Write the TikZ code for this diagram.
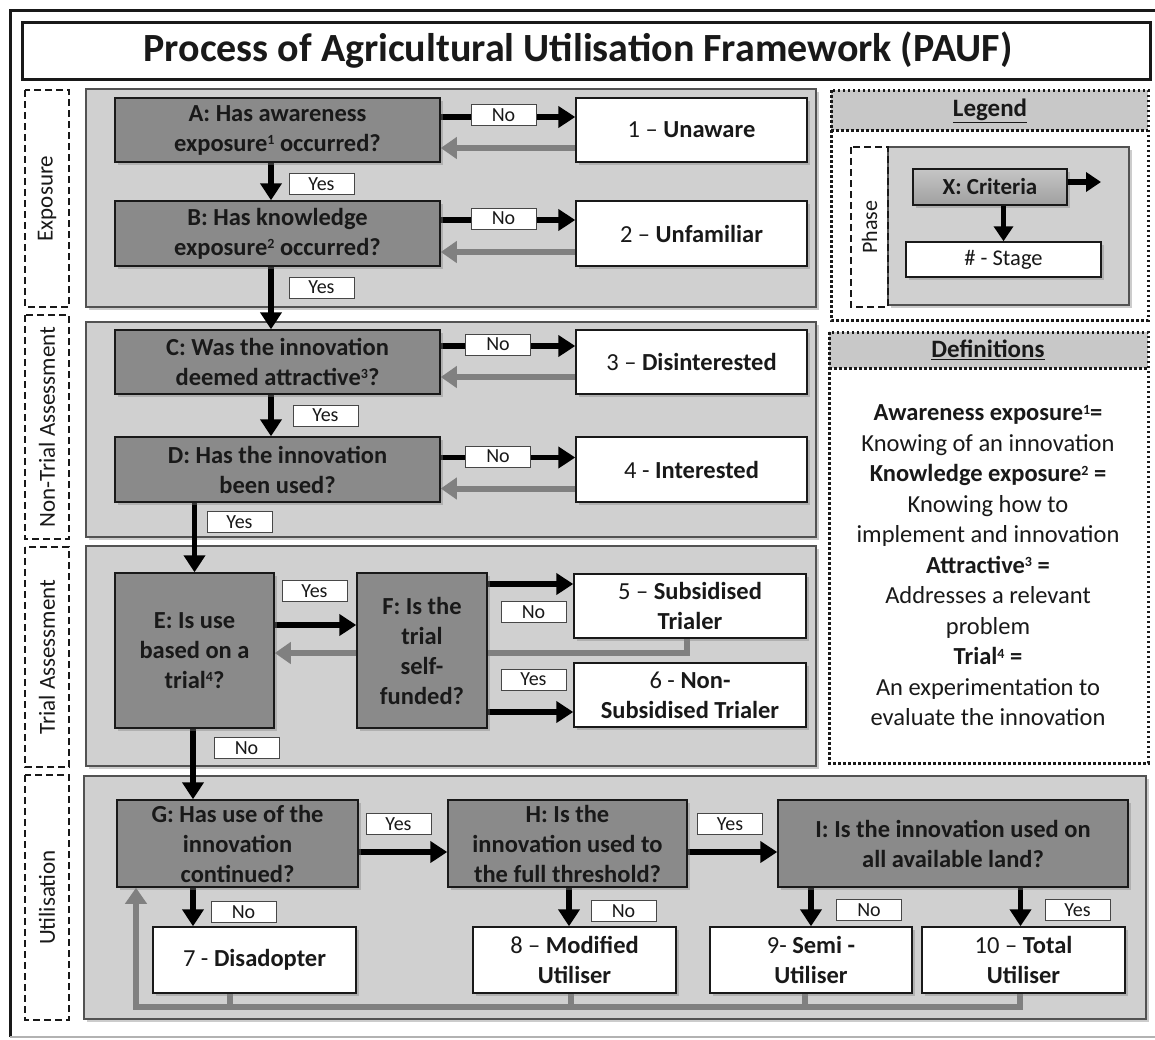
\documentclass[tikz,border=0pt]{standalone}
\usepackage{fontspec}
\setmainfont{Carlito}
\usetikzlibrary{arrows.meta,shadows,calc}
\definecolor{panelgray}{RGB}{208,208,208}
\definecolor{critgray}{RGB}{138,138,138}
\definecolor{arrgray}{RGB}{128,128,128}
\definecolor{hdrgray}{RGB}{200,200,200}
\definecolor{inkblack}{RGB}{25,25,25}
\newcommand\mysup[1]{\raisebox{0.55ex}{\fontsize{14}{14}\selectfont #1}}
\pgfdeclarelayer{bg}
\pgfdeclarelayer{panels}
\pgfdeclarelayer{conn}
\pgfsetlayers{bg,panels,conn,main}
\tikzset{
  shd/.style={drop shadow={shadow xshift=2.5pt,shadow yshift=-2.5pt,opacity=0.4}},
  crit/.style={draw=inkblack, line width=1.5pt, fill=critgray, align=center, inner sep=0pt, text=inkblack,
    font=\fontsize{24.5}{30}\selectfont\bfseries, shd},
  stage/.style={draw=inkblack, line width=1.5pt, fill=white, align=center, inner sep=0pt, text=inkblack,
    font=\fontsize{24.5}{30}\selectfont, shd},
  lab/.style={draw=inkblack!80, line width=0.8pt, fill=white, minimum width=65pt, minimum height=21pt,
    inner sep=0pt, text=inkblack, font=\fontsize{20}{22}\selectfont},
  phase/.style={draw=inkblack, line width=2.5pt, dash pattern=on 7pt off 4pt, rotate=90, minimum height=44pt,
    inner sep=0pt, text=inkblack, font=\fontsize{23}{26}\selectfont},
  arr/.style={line width=5.5pt, draw=black, -{Triangle[length=17pt,width=21pt]}},
  garr/.style={line width=6pt, draw=arrgray, -{Triangle[length=16pt,width=21pt]}},
  gline/.style={line width=6pt, draw=arrgray},
  panel/.style={draw=inkblack!75, line width=1.5pt, fill=panelgray, shd},
  dotbox/.style={draw=inkblack, line width=3pt, dash pattern=on 2.5pt off 2.5pt},
}
\begin{document}
\begin{tikzpicture}[x=1pt,y=-1pt]
\useasboundingbox (0,0) rectangle (1155,1039);
\begin{pgfonlayer}{bg}
\fill[white] (0,0) rectangle (1155,1039);
\end{pgfonlayer}
% outer frame
\draw[line width=3pt, inkblack] (10,1037) -- (10,10) -- (1155,10);
\draw[line width=1.5pt, gray!60] (10,1037) -- (1155,1037);
% title
\node[draw=inkblack, line width=3pt, minimum width=1128pt, minimum height=57pt, inner sep=0pt] (titlebox) at (586,50.5) {};
\node[font=\fontsize{40}{44}\selectfont\bfseries, text=inkblack, inner sep=0pt] (title) at (578,50.5)
  {Process of Agricultural Utilisation\ Framework (PAUF)};

% panels
\begin{pgfonlayer}{panels}
\draw[panel] (86,89) rectangle (816,307);
\draw[panel] (86,322) rectangle (816,537);
\draw[panel] (86,546) rectangle (816,766);
\draw[panel] (84,776) rectangle (1146,1019);
\end{pgfonlayer}

% phase labels
\node[phase, minimum width=217pt] (pExp) at (47,198.5) {Exposure};
\node[phase, minimum width=224pt] (pNon) at (47,427) {Non-Trial Assessment};
\node[phase, minimum width=220pt] (pTri) at (47,657) {Trial Assessment};
\node[phase, minimum width=245pt] (pUti) at (47,897.5) {Utilisation};

% criteria
\node[crit, minimum width=325pt, minimum height=64pt] (A) at (277.5,130) {A: Has awareness\\exposure\mysup{1} occurred?};
\node[crit, minimum width=325pt, minimum height=65pt] (B) at (277.5,233.5) {B: Has knowledge\\exposure\mysup{2} occurred?};
\node[crit, minimum width=325pt, minimum height=64pt] (C) at (277.5,362) {C: Was the innovation\\deemed attractive\mysup{3}?};
\node[crit, minimum width=325pt, minimum height=65pt] (D) at (277.5,469.5) {D: Has the innovation\\been used?};
\node[crit, minimum width=159pt, minimum height=155pt] (E) at (194.5,650.5) {E: Is use\\based on a\\trial\mysup{4}?};
\node[crit, minimum width=130pt, minimum height=155pt] (F) at (422,650.5) {F: Is the\\trial\\self-\\funded?};
\node[crit, minimum width=241pt, minimum height=87pt] (G) at (237.5,843.5) {G: Has use of the\\innovation\\continued?};
\node[crit, minimum width=239pt, minimum height=87pt] (H) at (567.5,843.5) {H: Is the\\innovation used to\\the full threshold?};
\node[crit, minimum width=350pt, minimum height=87pt] (I) at (953,843.5) {I: Is the innovation used on\\all available land?};

% stages
\node[stage, minimum width=231pt, minimum height=64pt] (s1) at (691.5,130) {1 -- \textbf{Unaware}};
\node[stage, minimum width=231pt, minimum height=65pt] (s2) at (691.5,233.5) {2 -- \textbf{Unfamiliar}};
\node[stage, minimum width=231pt, minimum height=64pt] (s3) at (691.5,362) {3 -- \textbf{Disinterested}};
\node[stage, minimum width=231pt, minimum height=65pt] (s4) at (691.5,469.5) {4 - \textbf{Interested}};
\node[stage, minimum width=232pt, minimum height=64pt] (s5) at (690,606) {5 -- \textbf{Subsidised}\\\textbf{Trialer}};
\node[stage, minimum width=232pt, minimum height=64pt] (s6) at (690,695) {6 - \textbf{Non-}\\\textbf{Subsidised Trialer}};
\node[stage, minimum width=203pt, minimum height=66pt] (s7) at (254.5,960) {7 - \textbf{Disadopter}};
\node[stage, minimum width=203pt, minimum height=66pt] (s8) at (574.5,960) {8 -- \textbf{Modified}\\\textbf{Utiliser}};
\node[stage, minimum width=202pt, minimum height=66pt] (s9) at (811,960) {9- \textbf{Semi -}\\\textbf{Utiliser}};
\node[stage, minimum width=203pt, minimum height=66pt] (s10) at (1023.5,960) {10 -- \textbf{Total}\\\textbf{Utiliser}};

% helper coordinates
\coordinate (f5) at ([yshift=22pt]s5.west);
\coordinate (f6) at ([yshift=-17pt]s6.west);
\coordinate (fb) at (136,1007);

\begin{pgfonlayer}{conn}
% exposure
\draw[arr] ([yshift=13pt]A.east) -- ([yshift=13pt]s1.west);
\draw[garr] ([yshift=-18pt]s1.west) -- ([yshift=-18pt]A.east);
\draw[arr] ([yshift=13.5pt]B.east) -- ([yshift=13.5pt]s2.west);
\draw[garr] ([yshift=-18.5pt]s2.west) -- ([yshift=-18.5pt]B.east);
\draw[arr] ([xshift=-6.5pt]A.south) -- ([xshift=-6.5pt]B.north);
\draw[arr] ([xshift=-6.5pt]B.south) -- ([xshift=-6.5pt]C.north);
% non-trial
\draw[arr] ([yshift=16pt]C.east) -- ([yshift=16pt]s3.west);
\draw[garr] ([yshift=-15pt]s3.west) -- ([yshift=-15pt]C.east);
\draw[arr] ([yshift=12pt]D.east) -- ([yshift=12pt]s4.west);
\draw[garr] ([yshift=-19pt]s4.west) -- ([yshift=-19pt]D.east);
\draw[arr] ([xshift=-6.5pt]C.south) -- ([xshift=-6.5pt]D.north);
\draw[arr] (D.south -| E.north) -- (E.north);
% trial
\draw[garr] ([xshift=-3pt]s5.south) |- ([yshift=-2.5pt]E.east);
\draw[arr] ([yshift=25.5pt]E.east) -- ([yshift=25.5pt]F.west);
\draw[arr] (F.east |- f5) -- (f5);
\draw[arr] (F.east |- f6) -- (f6);
\draw[arr] ([xshift=-1.5pt]E.south) -- ([xshift=-1.5pt]E.south |- G.north);
% utilisation
\draw[arr] ([yshift=-8.5pt]G.east) -- ([yshift=-8.5pt]H.west);
\draw[arr] ([yshift=-8.5pt]H.east) -- ([yshift=-8.5pt]I.west);
\draw[arr] ([xshift=-44.5pt]G.south) -- ([xshift=-44.5pt]G.south |- s7.north);
\draw[arr] ([xshift=1.5pt]H.south) -- ([xshift=1.5pt]H.south |- s8.north);
\draw[arr] (s9.north |- I.south) -- (s9.north);
\draw[arr] ([xshift=-3pt]s10.north |- I.south) -- ([xshift=-3pt]s10.north);
% feedback
\draw[gline] ([xshift=-25pt]s7.south) -- ([xshift=-25pt]s7.south |- fb);
\draw[gline] ([xshift=-4pt]s8.south) -- ([xshift=-4pt]s8.south |- fb);
\draw[gline] ([xshift=-6pt]s9.south) -- ([xshift=-6pt]s9.south |- fb);
\draw[garr] ([xshift=-4pt]s10.south) |- (fb) -- (fb |- G.south);
\end{pgfonlayer}

% yes/no labels
\node[lab] (nA) at (503.5,115) {No};
\node[lab] (yA) at (321.5,184) {Yes};
\node[lab] (nB) at (503.5,218.5) {No};
\node[lab] (yB) at (321.5,287.5) {Yes};
\node[lab] (nC) at (498,344.5) {No};
\node[lab] (yC) at (325.5,415.5) {Yes};
\node[lab] (nD) at (498,456.5) {No};
\node[lab] (yD) at (239.5,522) {Yes};
\node[lab] (yE) at (314.5,591) {Yes};
\node[lab] (nF) at (533.5,612) {No};
\node[lab] (yF) at (533.5,679.5) {Yes};
\node[lab] (nE) at (246.5,748) {No};
\node[lab] (yG) at (398.5,824) {Yes};
\node[lab] (yH) at (730,824) {Yes};
\node[lab] (nG) at (243.5,912) {No};
\node[lab] (nH) at (623.5,911) {No};
\node[lab] (nI) at (869,910) {No};
\node[lab] (yI) at (1077.5,910) {Yes};

% legend
\fill[hdrgray] (831,90) rectangle (1148,130);
\draw[dotbox] (831,90) rectangle (1148,320);
\draw[dotbox] (831,130) -- (1148,130);
\node[font=\fontsize{25}{28}\selectfont\bfseries, text=inkblack] (legend) at (990,111) {\underline{Legend}};
\draw[panel] (888,147) rectangle (1129,305);
\node[phase, minimum width=160pt, minimum height=37pt, font=\fontsize{22}{24}\selectfont] (lphase) at (869.5,227) {Phase};
\node[draw=inkblack, line width=1.5pt, top color=gray!45, bottom color=gray!75, minimum width=154pt, minimum height=36pt,
  inner sep=0pt, font=\fontsize{23}{26}\selectfont\bfseries, text=inkblack, shd] (lcrit) at (990,187) {X: Criteria};
\node[draw=inkblack, line width=1.5pt, fill=white, minimum width=195pt, minimum height=35pt, inner sep=0pt,
  font=\fontsize{22.5}{25}\selectfont, text=inkblack, shd] (lstage) at (1003.5,259.5) {\# - Stage};
\coordinate (lout) at (1101,182);
\draw[arr, -{Triangle[length=15pt,width=19pt]}] (lcrit.east |- lout) -- (lout);
\draw[arr, -{Triangle[length=15pt,width=19pt]}] (lstage.north |- lcrit.south) -- (lstage.north);

% definitions
\fill[hdrgray] (829,332) rectangle (1148,368);
\draw[dotbox] (829,332) rectangle (1148,763);
\draw[dotbox] (829,368) -- (1148,368);
\node[font=\fontsize{25}{28}\selectfont\bfseries, text=inkblack] (defs) at (988,350) {\underline{Definitions}};
\node[align=center, font=\fontsize{24.5}{30.5}\selectfont, text=inkblack] (deftext) at (988,565.5)
  {\textbf{Awareness exposure\mysup{1}=}\\
   Knowing of an innovation\\
   \textbf{Knowledge exposure\mysup{2} =}\\
   Knowing how to\\
   implement and innovation\\
   \textbf{Attractive\mysup{3} =}\\
   Addresses a relevant\\
   problem\\
   \textbf{Trial\mysup{4} =}\\
   An experimentation to\\
   evaluate the innovation};
\end{tikzpicture}
\end{document}
